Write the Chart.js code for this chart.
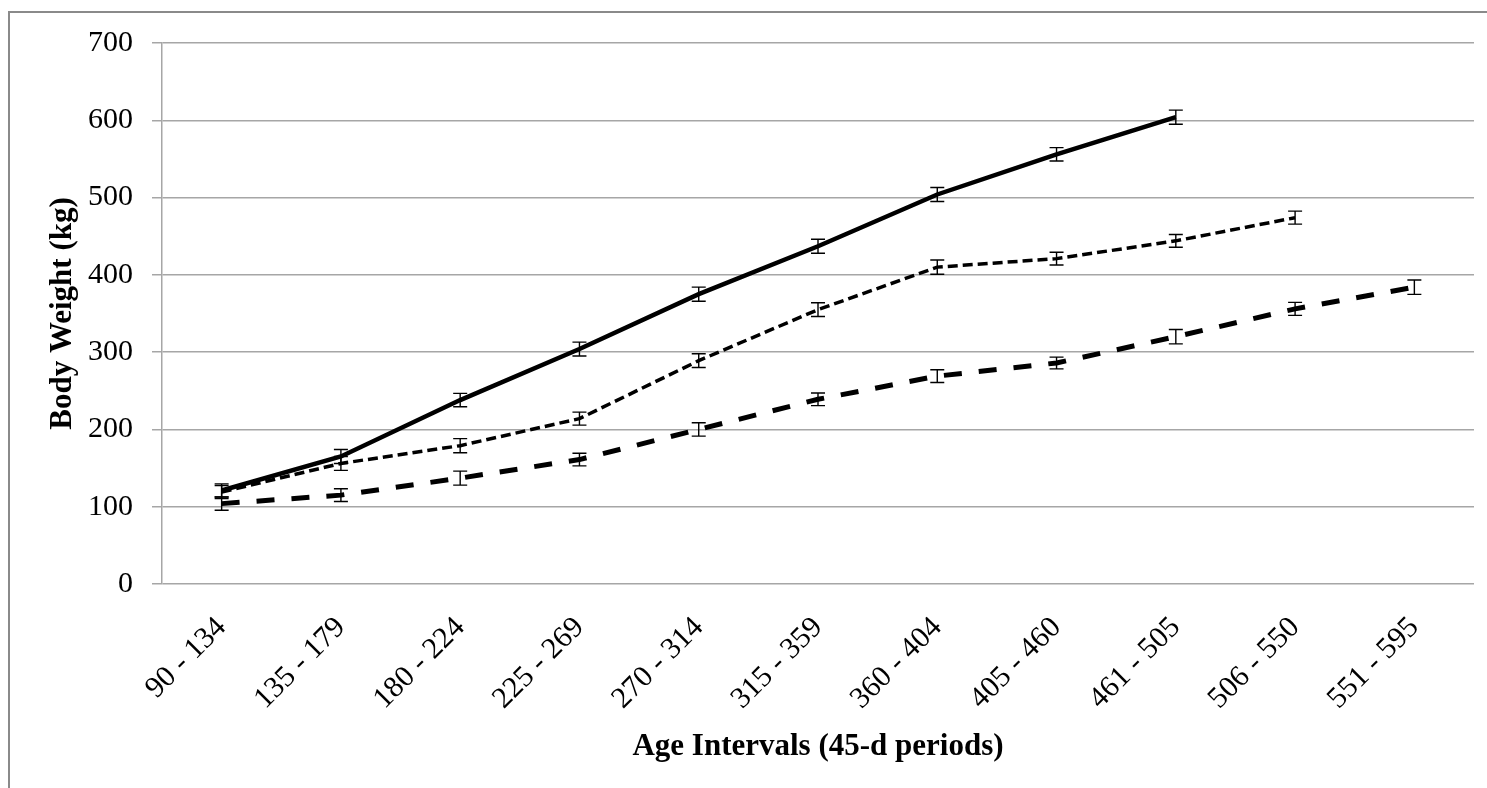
<!DOCTYPE html>
<html>
<head>
<meta charset="utf-8">
<script src="https://cdn.jsdelivr.net/npm/chart.js@4.4.1/dist/chart.umd.min.js"></script>
<style>
    html, body { margin: 0; padding: 0; background: #fff; }
    #wrap { position: relative; width: 1487px; height: 788px; overflow: hidden; }
    #frame { position: absolute; left: 8px; top: 11px; width: 1500px; height: 800px;
             border-left: 2px solid #8a8a8a; border-top: 2px solid #8a8a8a; }
    canvas { position: absolute; left: 0; top: 0; }
</style>
</head>
<body>
<div id="wrap">
    <div id="frame"></div>
    <canvas id="chart" width="1487" height="788"></canvas>
</div>
<script>
// Age intervals on the x axis
var ageIntervals = ['90 - 134', '135 - 179', '180 - 224', '225 - 269', '270 - 314', '315 - 359',
    '360 - 404', '405 - 460', '461 - 505', '506 - 550', '551 - 595'];

// Mean body weight (kg) per group
var solidWeights = [121, 165, 238, 304, 375, 437, 504, 556, 604, null, null];
var shortDashWeights = [119, 156, 179, 214, 289, 355, 410, 421, 444, 474, null];
var longDashWeights = [104, 115, 137, 161, 200, 239, 269, 286, 320, 356, 384];

// Half-length of the error bars (kg)
var solidErrors = [8.5, 9, 8.6, 8.9, 9.1, 9.1, 9.1, 8.6, 9.1, null, null];
var shortDashErrors = [8.5, 9, 9.1, 8.4, 8.9, 8.9, 9.3, 8.2, 8.2, 8.4, null];
var longDashErrors = [8.6, 8.2, 9.1, 8.2, 8.6, 8.2, 8.2, 7.6, 9.3, 8.4, 9.3];

var yTicks = [0, 100, 200, 300, 400, 500, 600, 700];

// Draws the error bars on top of the lines
var errorBarPlugin = {
    id: 'errorBars',
    afterDatasetsDraw: function (chart) {
        var ctx = chart.ctx;
        var xScale = chart.scales.x;
        var yScale = chart.scales.y;
        ctx.save();
        ctx.strokeStyle = '#000';
        ctx.lineWidth = 1.4;
        chart.data.datasets.forEach(function (ds) {
            ds.data.forEach(function (v, i) {
                var err = ds.errors[i];
                if (v == null || err == null) return;
                var x = xScale.getPixelForValue(i);
                var yTop = yScale.getPixelForValue(v + err);
                var yBot = yScale.getPixelForValue(v - err);
                ctx.beginPath();
                ctx.moveTo(x, yTop);
                ctx.lineTo(x, yBot);
                ctx.moveTo(x - 7, yTop);
                ctx.lineTo(x + 7, yTop);
                ctx.moveTo(x - 7, yBot);
                ctx.lineTo(x + 7, yBot);
                ctx.stroke();
            });
        });
        ctx.restore();
    }
};

Chart.defaults.font.family = '"Liberation Serif", "Times New Roman", serif';
Chart.defaults.color = '#000';

var ctx = document.getElementById('chart').getContext('2d');
var chart = new Chart(ctx, {
    type: 'line',
    data: {
        labels: ageIntervals,
        datasets: [{
            data: solidWeights,
            errors: solidErrors,
            borderColor: '#000',
            borderWidth: 4.5,
            pointRadius: 0,
            tension: 0
        }, {
            data: shortDashWeights,
            errors: shortDashErrors,
            borderColor: '#000',
            borderWidth: 3.5,
            borderDash: [10, 5],
            pointRadius: 0,
            tension: 0
        }, {
            data: longDashWeights,
            errors: longDashErrors,
            borderColor: '#000',
            borderWidth: 5,
            borderDash: [18, 17],
            pointRadius: 0,
            tension: 0
        }]
    },
    options: {
        responsive: false,
        animation: false,
        layout: { padding: { top: 43, right: 13, left: 0, bottom: 0 } },
        plugins: {
            legend: { display: false },
            tooltip: { enabled: false }
        },
        scales: {
            x: {
                offset: true,
                grid: { display: false, drawTicks: false, offset: true },
                border: { display: false },
                ticks: {
                    font: { size: 30 },
                    autoSkip: false,
                    minRotation: 45,
                    maxRotation: 45,
                    padding: 26
                },
                title: {
                    display: true,
                    text: 'Age Intervals (45-d periods)',
                    font: { size: 31, weight: 'bold' },
                    padding: { top: 0, bottom: 22 }
                },
                afterFit: function (scale) { scale.height = 204; }
            },
            y: {
                min: 0,
                max: 700,
                afterBuildTicks: function (scale) {
                    scale.ticks = yTicks.map(function (v) { return { value: v }; });
                },
                grid: { color: '#a6a6a6', lineWidth: 1.5, tickLength: 10 },
                border: { color: '#a6a6a6', width: 1.5 },
                ticks: { font: { size: 30 }, padding: 19 },
                title: {
                    display: true,
                    text: 'Body Weight (kg)',
                    font: { size: 31, weight: 'bold' },
                    padding: { top: 44, bottom: 0 }
                },
                afterFit: function (scale) { scale.width = 162; }
            }
        }
    },
    plugins: [errorBarPlugin]
});
</script>
</body>
</html>
